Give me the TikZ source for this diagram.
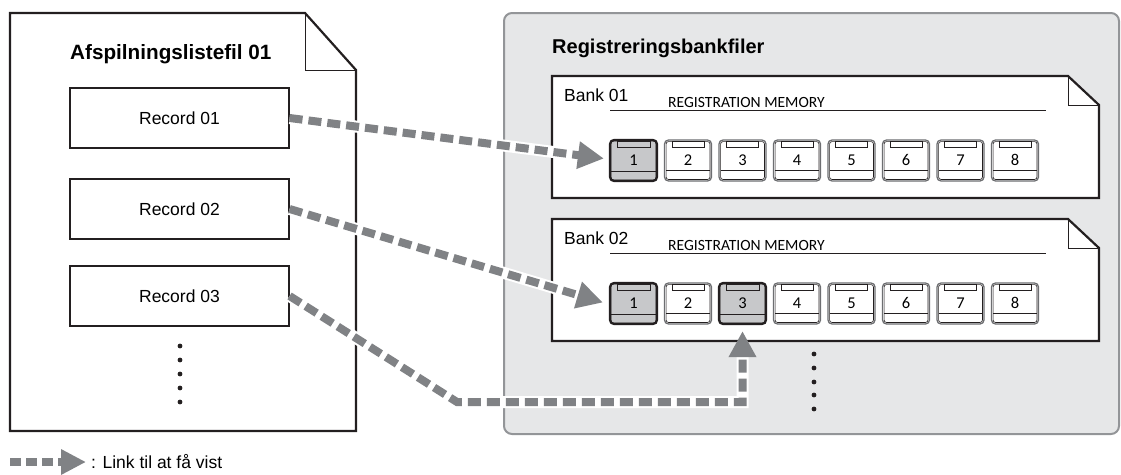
\documentclass[tikz,border=0pt]{standalone}
\usepackage{fontspec}
\setmainfont{Liberation Sans}
\newfontfamily\panelfont{Carlito}
\usetikzlibrary{arrows.meta,calc}
\definecolor{ink}{HTML}{231F20}
\definecolor{linkgray}{HTML}{808285}
\definecolor{panelfill}{HTML}{E6E7E8}
\definecolor{panelline}{HTML}{939598}
\definecolor{keyfill}{HTML}{C7C8CA}
\definecolor{keyline}{HTML}{6D6E71}
\tikzset{
  doc/.style={draw=ink, line width=2.2pt, fill=white, line join=miter},
  foldline/.style={draw=ink, line width=1pt},
  rec/.style={draw=ink, line width=1.2pt, fill=white, minimum width=219pt, minimum height=60pt, inner sep=0pt, font=\fontsize{17.5}{20}\selectfont},
  keynorm/.style={draw=keyline, line width=1.3pt, fill=white, rounded corners=4pt, minimum width=47pt, minimum height=41pt, inner sep=0pt},
  keysel/.style={keynorm, draw=ink, line width=2.2pt, fill=keyfill},
  keynum/.style={inner sep=0pt, font=\panelfont\fontsize{16.5}{18}\selectfont},
  linkunder/.style={draw=white, line width=12pt, shorten >=24pt},
  link/.style={draw=linkgray, line width=8pt, dash pattern=on 13pt off 6pt, -{Triangle[length=26pt,width=26pt]}},
  dot/.style={fill=ink},
}
\newcommand\keydeco[2]{%
  \draw[ink, line width=0.6pt, rounded corners=2.5pt] ([shift={(2.2pt,2.2pt)}]#1.south west) rectangle ([shift={(-2.2pt,-2.2pt)}]#1.north east);
  \draw[ink, line width=0.7pt, fill=#2] ([shift={(8pt,-2.2pt)}]#1.north west) rectangle ([shift={(-8pt,-8pt)}]#1.north east);
  \draw[ink, line width=0.8pt] ([shift={(2.2pt,11pt)}]#1.south west) -- ([shift={(-2.2pt,11pt)}]#1.south east);
}
\begin{document}
\begin{tikzpicture}[x=1pt,y=-1pt]
\useasboundingbox (0,0) rectangle (1121,474);
% left document
\draw[doc] (10,13) -- (305,13) -- (356,70) -- (356,431) -- (10,431) -- cycle;
\draw[foldline] (305,13) -- (305,70) -- (356,70);
\node[anchor=base west, inner sep=0pt, font=\bfseries\fontsize{20.7}{24}\selectfont] (ltitle) at (70,59) {Afspilningslistefil 01};
\node[rec] (rec1) at (179.5,118) {Record 01};
\node[rec] (rec2) at (179.5,209) {Record 02};
\node[rec] (rec3) at (179.5,296) {Record 03};
\foreach \y in {346,360,374,388,402} \fill[dot] (180,\y) circle (2.4pt);
% right panel
\draw[draw=panelline, line width=2pt, fill=panelfill, rounded corners=8pt] (504,13) rectangle (1119,434);
\node[anchor=base west, inner sep=0pt, font=\bfseries\fontsize{20}{24}\selectfont] (rtitle) at (552,53) {Registreringsbankfiler};
\foreach \b/\T in {1/76,2/219}{
  \draw[doc] (552,\T) -- (1068,\T) -- (1099,\T+29) -- (1099,\T+122) -- (552,\T+122) -- cycle;
  \draw[foldline] (1068,\T) -- (1068,\T+29) -- (1099,\T+29);
  \node[anchor=base west, inner sep=0pt, font=\fontsize{17.5}{20}\selectfont] (bank\b) at (564,\T+25) {Bank 0\b};
  \node[anchor=base west, inner sep=0pt, font=\panelfont\fontsize{15.6}{18}\selectfont] (rm\b) at (668,\T+31) {REGISTRATION MEMORY};
  \draw[ink, line width=1pt] (610,\T+34) -- (1046,\T+34);
}
\foreach \k/\s/\f in {1/keysel/keyfill,2/keynorm/white,3/keynorm/white,4/keynorm/white,5/keynorm/white,6/keynorm/white,7/keynorm/white,8/keynorm/white}{
  \pgfmathsetmacro\kx{633.5+(\k-1)*54.5}
  \node[\s] (b1-\k) at (\kx,160.5) {};
  \keydeco{b1-\k}{\f}
  \node[keynum] at ([yshift=0.5pt]b1-\k.center) {\k};
}
\foreach \k/\s/\f in {1/keysel/keyfill,2/keynorm/white,3/keysel/keyfill,4/keynorm/white,5/keynorm/white,6/keynorm/white,7/keynorm/white,8/keynorm/white}{
  \pgfmathsetmacro\kx{633.5+(\k-1)*54.5}
  \node[\s] (b2-\k) at (\kx,303.5) {};
  \keydeco{b2-\k}{\f}
  \node[keynum] at ([yshift=0.5pt]b2-\k.center) {\k};
}
\foreach \y in {354,368,382,395,409} \fill[dot] (814,\y) circle (2.4pt);
% links
\coordinate (bend3) at (457,402);
\coordinate (t1) at ([shift={(-5pt,2pt)}]b1-1.west);
\coordinate (t2) at ([shift={(-6pt,1pt)}]b2-1.west);
\coordinate (t3) at ([yshift=-6pt]b2-3.south);
\draw[linkunder] (rec1.east) -- (t1);
\draw[link] (rec1.east) -- (t1);
\draw[linkunder] (rec2.east) -- (t2);
\draw[link] (rec2.east) -- (t2);
\draw[linkunder] (rec3.east) -- (bend3) -| (t3);
\draw[link] (rec3.east) -- (bend3) -| (t3);
% legend
\coordinate (lgS) at (10,462);
\coordinate (lgE) at (86,462);
\draw[link, dash pattern=on 11pt off 5pt, -{Triangle[length=25pt,width=24pt]}] (lgS) -- (lgE);
\node[anchor=base west, inner sep=0pt, font=\fontsize{17.5}{20}\selectfont] (lgtext) at (91,468) {: Link til at få vist};
\end{tikzpicture}
\end{document}
